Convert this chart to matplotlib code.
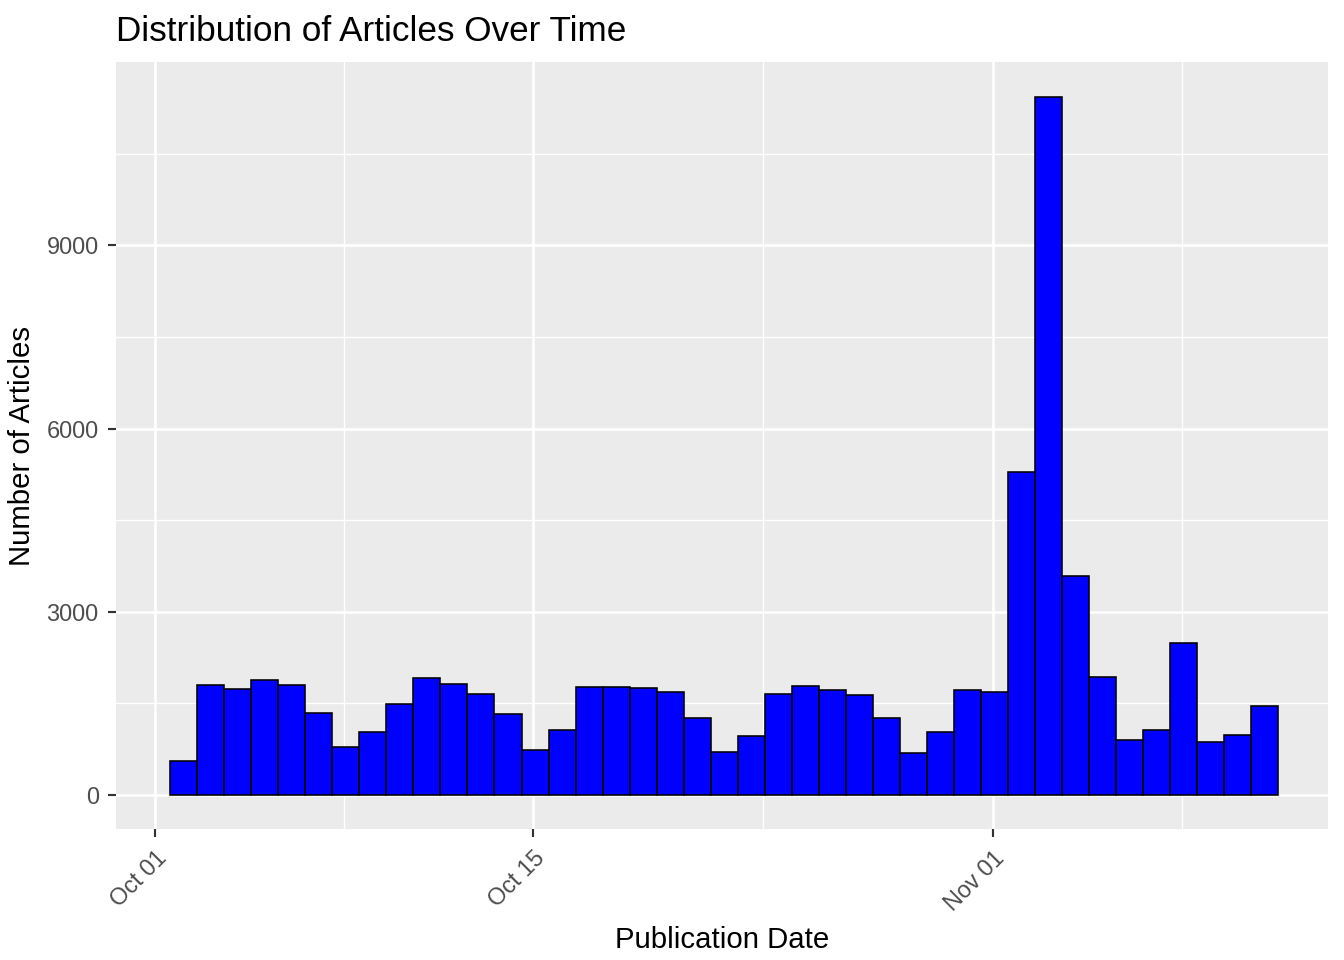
import numpy as np
import matplotlib
matplotlib.use("Agg")
import matplotlib.pyplot as plt
import matplotlib.dates as mdates
from datetime import datetime, timedelta

# daily article counts, one bin per day
start_date = datetime(2023, 10, 1, 13, 30)
counts = [556, 1800, 1735, 1880, 1800, 1340, 785, 1030, 1490, 1915,
          1815, 1650, 1325, 735, 1065, 1765, 1765, 1750, 1685, 1260,
          705, 965, 1650, 1785, 1720, 1635, 1260, 690, 1030, 1720,
          1685, 5285, 11420, 3580, 1930, 900, 1065, 2485, 870, 980, 1455]
bin_starts = [start_date + timedelta(days=i) for i in range(len(counts))]

major_dates = [datetime(2023, 10, 1), datetime(2023, 10, 15), datetime(2023, 11, 1)]
minor_dates = [datetime(2023, 10, 8), datetime(2023, 10, 23, 12), datetime(2023, 11, 8)]

plt.rcParams['font.family'] = ['Liberation Sans', 'DejaVu Sans']
fig = plt.figure(figsize=(7, 5), dpi=192)
ax = fig.add_axes([116/1344, 1 - 829/960, (1328-116)/1344, (829-62)/960])
ax.set_facecolor('#EBEBEB')

ax.bar(bin_starts, counts, width=1, align='edge', color='#0000FF',
       edgecolor='black', linewidth=0.6, zorder=3)

ax.set_xlim(datetime(2023, 10, 1) - timedelta(days=1.44), datetime(2023, 10, 1) + timedelta(days=43.4))
ax.set_ylim(-556, 12000)

ax.set_xticks(major_dates)
ax.set_xticks(minor_dates, minor=True)
ax.xaxis.set_major_formatter(mdates.DateFormatter('%b %d'))
ax.set_yticks([0, 3000, 6000, 9000])
ax.set_yticks([1500, 4500, 7500, 10500], minor=True)

ax.grid(which='major', color='white', linewidth=1.0, zorder=0)
ax.grid(which='minor', color='white', linewidth=0.5, zorder=0)
ax.set_axisbelow(True)
for s in ax.spines.values():
    s.set_visible(False)
ax.tick_params(which='both', length=3, color='#333333', labelcolor='#4D4D4D', labelsize=8.8)
ax.tick_params(which='minor', length=0)
plt.setp(ax.get_xticklabels(), rotation=45, ha='right', rotation_mode='anchor')

ax.set_xlabel('Publication Date', fontsize=11)
ax.set_ylabel('Number of Articles', fontsize=11)
ax.set_title('Distribution of Articles Over Time', loc='left', fontsize=13.2, x=0, pad=8)
fig.text(116/1344, 1 - 30/960, '', fontsize=1)

fig.savefig('out.png', dpi=192)
